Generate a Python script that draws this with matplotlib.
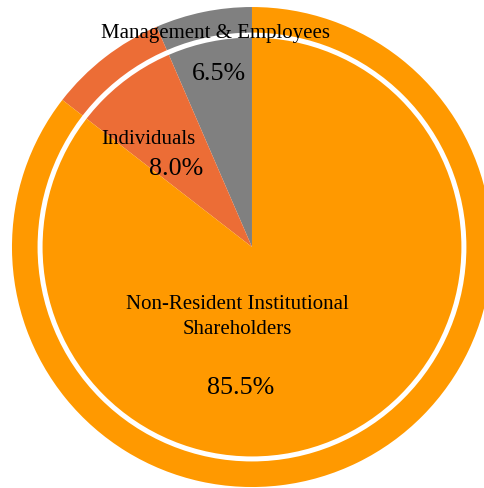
import matplotlib
matplotlib.use('Agg')
from matplotlib import pyplot as plt

# shareholder structure, counterclockwise from 12 o'clock
categories = ['Management & Employees', 'Individuals', 'Non-Resident Institutional\nShareholders']
shares = [6.5, 8.0, 85.5]
colors = ['#808080', '#EC6D36', '#FF9900']

plt.rcParams['font.family'] = ['Liberation Serif', 'DejaVu Serif']

fig = plt.figure(figsize=(4.85, 4.88), dpi=100)
ax = fig.add_axes([0.0247, 0.002, 0.9897, 0.9836])

ax.pie(shares, colors=colors, startangle=90, counterclock=True, radius=1.0,
       wedgeprops=dict(linewidth=0))

# white separator ring
ring = plt.Circle((0, 0), 0.883, fill=False, ec='white', lw=3.6)
ax.add_patch(ring)

# label positions (data coords)
label_pos = [(-0.154, 0.888), (-0.433, 0.450), (-0.0625, -0.291)]
pct_pos = [(-0.1375, 0.723), (-0.317, 0.327), (-0.046, -0.589)]

for name, val, lp, pp in zip(categories, shares, label_pos, pct_pos):
    ax.text(lp[0], lp[1], name, ha='center', va='center', fontsize=15,
            color='black', linespacing=1.42)
    ax.text(pp[0], pp[1], f'{val:.1f}%', ha='center', va='center', fontsize=18.7,
            color='black')

ax.set_xlim(-1, 1)
ax.set_ylim(-1, 1)
ax.set_aspect('equal')
ax.axis('off')

fig.savefig('out.png', dpi=100)
